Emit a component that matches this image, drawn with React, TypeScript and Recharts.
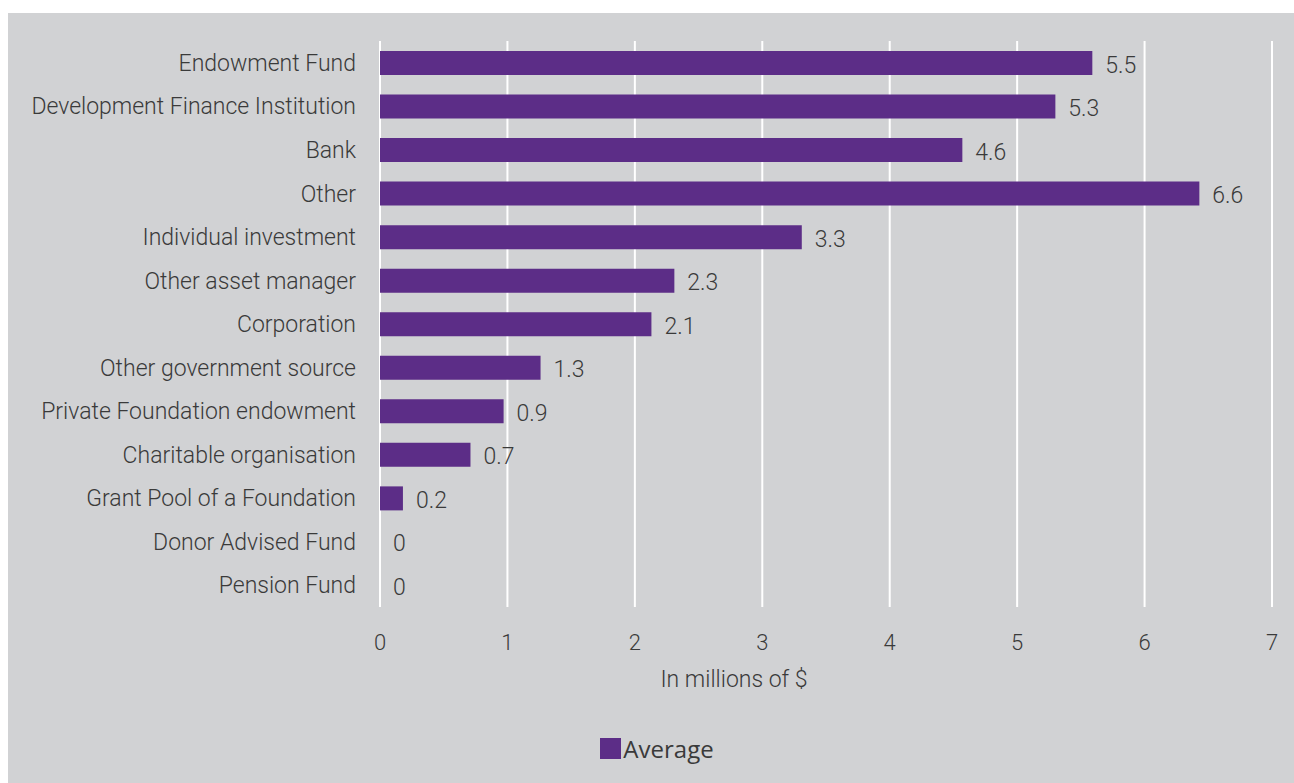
import React from "react";
import { BarChart, Bar, XAxis, YAxis, CartesianGrid, LabelList, Legend, Rectangle } from "recharts";

const categories = [
  "Endowment Fund",
  "Development Finance Institution",
  "Bank",
  "Other",
  "Individual investment",
  "Other asset manager",
  "Corporation",
  "Other government source",
  "Private Foundation endowment",
  "Charitable organisation",
  "Grant Pool of a Foundation",
  "Donor Advised Fund",
  "Pension Fund",
];

// bar lengths (millions of $)
const averages = [5.59, 5.3, 4.57, 6.43, 3.31, 2.31, 2.13, 1.26, 0.97, 0.71, 0.18, 0, 0];

// value labels as printed next to the bars
const averageLabels = ["5.5", "5.3", "4.6", "6.6", "3.3", "2.3", "2.1", "1.3", "0.9", "0.7", "0.2", "0", "0"];

const xTicks = [0, 1, 2, 3, 4, 5, 6, 7];

const data = categories.map((name, i) => ({
  name,
  average: averages[i],
  label: averageLabels[i],
}));

const PURPLE = "#5c2d87";
const TEXT = "#3a3a3a";
const FONT = "Roboto, 'Noto Sans', sans-serif";

function LegendBox() {
  return (
    <div style={{ display: "flex", justifyContent: "center", alignItems: "center", fontFamily: "'Open Sans', sans-serif", fontSize: 24, color: TEXT, paddingTop: 9, paddingLeft: 42 }}>
      <span style={{ display: "inline-block", width: 21, height: 21, background: PURPLE, marginRight: 2 }} />
      <span>Average</span>
    </div>
  );
}

// zero bars get minPointSize so their labels show; don't paint them
function BarShape(props: any) {
  if (!props.payload || !(props.payload.average > 0)) return null;
  return <Rectangle {...props} />;
}

function ValueLabel(props: any) {
  const { x, y, width, height, value, index } = props;
  const w = averages[index] > 0 ? Number(width) : 0;
  return (
    <text
      x={Number(x) + w + 13}
      y={Number(y) + Number(height) / 2 + 2}
      fill={TEXT}
      fontSize={23}
      fontFamily={FONT}
      fontWeight={300}
      dominantBaseline="central"
    >
      {value}
    </text>
  );
}

export default function App() {
  return (
    <div style={{ position: "absolute", left: 0, top: 0, width: 1294, height: 783, overflow: "hidden", background: "#ffffff" }}>
      <div style={{ position: "absolute", left: 8, top: 13, width: 1286, height: 770, background: "#d1d2d4" }} />
      <div style={{ position: "absolute", left: 0, top: 0 }}>
        <BarChart
          width={1294}
          height={783}
          data={data}
          layout="vertical"
          margin={{ top: 41, right: 22, bottom: 20, left: 0 }}
          barCategoryGap={10}
        >
          <CartesianGrid horizontal={false} stroke="#ffffff" strokeWidth={2} />
          <XAxis
            type="number"
            domain={[0, 7]}
            ticks={xTicks}
            axisLine={false}
            tickLine={false}
            tickSize={0}
            tickMargin={27}
            height={116}
            tick={{ fill: TEXT, fontSize: 22, fontFamily: FONT, fontWeight: 300 }}
            label={{ value: "In millions of $", position: "insideBottom", offset: 36, dx: -92, fill: TEXT, fontSize: 23, fontFamily: FONT, fontWeight: 300 }}
          />
          <YAxis
            type="category"
            dataKey="name"
            width={380}
            axisLine={false}
            tickLine={false}
            tickSize={0}
            tickMargin={24}
            interval={0}
            tick={{ fill: TEXT, fontSize: 23, fontFamily: FONT, fontWeight: 300 }}
          />
          <Legend verticalAlign="bottom" height={40} content={() => <LegendBox />} />
          <Bar
            dataKey="average"
            name="Average"
            fill={PURPLE}
            barSize={24}
            minPointSize={1}
            shape={BarShape}
            isAnimationActive={false}
          >
            <LabelList dataKey="label" content={ValueLabel} />
          </Bar>
        </BarChart>
      </div>
    </div>
  );
}
